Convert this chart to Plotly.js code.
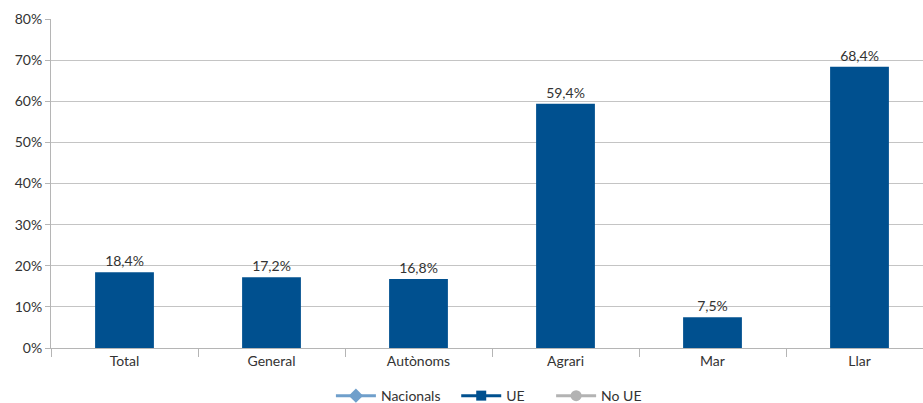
<!DOCTYPE html>
<html>
<head>
<meta charset="utf-8">
<script src="https://cdn.plot.ly/plotly-3.0.1.min.js"></script>
<style>
  html, body { margin: 0; padding: 0; background: #fff; }
  #chart { width: 923px; height: 403px; }
</style>
</head>
<body>
<div id="chart"></div>
<script>
// Categories and series (percent)
const categories = ['Total', 'General', 'Autònoms', 'Agrari', 'Mar', 'Llar'];
const ueValues = [18.4, 17.2, 16.8, 59.4, 7.5, 68.4];
const nacionalsValues = [null, null, null, null, null, null];
const noUeValues = [null, null, null, null, null, null];
const yTicks = [0, 10, 20, 30, 40, 50, 60, 70, 80];

const fmt = v => v.toFixed(1).replace('.', ',') + '%';
const pad = n => '\u00a0'.repeat(n);

const colNac = '#6f9fcb';
const colUE = '#00508f';
const colNoUE = '#b3b3b3';
const font = 'Lato, "Open Sans", sans-serif';

const traces = [
  {
    type: 'scatter', mode: 'lines+markers', name: 'Nacionals' + pad(3),
    x: categories, y: nacionalsValues,
    line: { color: colNac, width: 3 },
    marker: { symbol: 'diamond', size: 11, color: colNac },
    hoverinfo: 'skip'
  },
  {
    type: 'bar', name: 'UE', showlegend: false,
    x: categories, y: ueValues,
    marker: { color: colUE },
    text: ueValues.map(fmt),
    textposition: 'outside',
    cliponaxis: false,
    textfont: { family: font, size: 14, color: '#333' }
  },
  {
    type: 'scatter', mode: 'lines+markers', name: 'UE' + pad(6),
    x: categories, y: ueValues.map(() => null),
    line: { color: colUE, width: 3 },
    marker: { symbol: 'square', size: 10, color: colUE },
    hoverinfo: 'skip'
  },
  {
    type: 'scatter', mode: 'lines+markers', name: 'No UE',
    x: categories, y: noUeValues,
    line: { color: colNoUE, width: 3 },
    marker: { symbol: 'circle', size: 11, color: colNoUE },
    hoverinfo: 'skip'
  }
];

const layout = {
  width: 923, height: 403,
  margin: { l: 51, r: 0, t: 19, b: 55, autoexpand: false },
  paper_bgcolor: '#fff', plot_bgcolor: '#fff',
  font: { family: font, size: 14, color: '#333' },
  bargap: 0.6,
  xaxis: {
    type: 'category',
    range: [-0.5, 5.432],
    showline: true, linecolor: '#b5b5b5', linewidth: 1,
    ticks: 'outside', tickson: 'boundaries', ticklen: 8, tickcolor: '#b5b5b5',
    showgrid: false,
    tickfont: { family: font, size: 14, color: '#333' }
  },
  yaxis: {
    range: [0, 80], tickvals: yTicks, ticktext: yTicks.map(v => v + '%'),
    showline: true, linecolor: '#b5b5b5', linewidth: 1,
    ticks: 'outside', ticklen: 5, tickcolor: '#b5b5b5',
    gridcolor: '#c4c4c4', gridwidth: 1,
    zeroline: false,
    tickfont: { family: font, size: 14, color: '#333' }
  },
  legend: {
    orientation: 'h', x: 0.321, xanchor: 'left', y: -0.146, yanchor: 'middle',
    font: { family: font, size: 14, color: '#333' },
    itemwidth: 40
  },
  showlegend: true
};

Plotly.newPlot('chart', traces, layout, { displayModeBar: false, staticPlot: true });
</script>
</body>
</html>
